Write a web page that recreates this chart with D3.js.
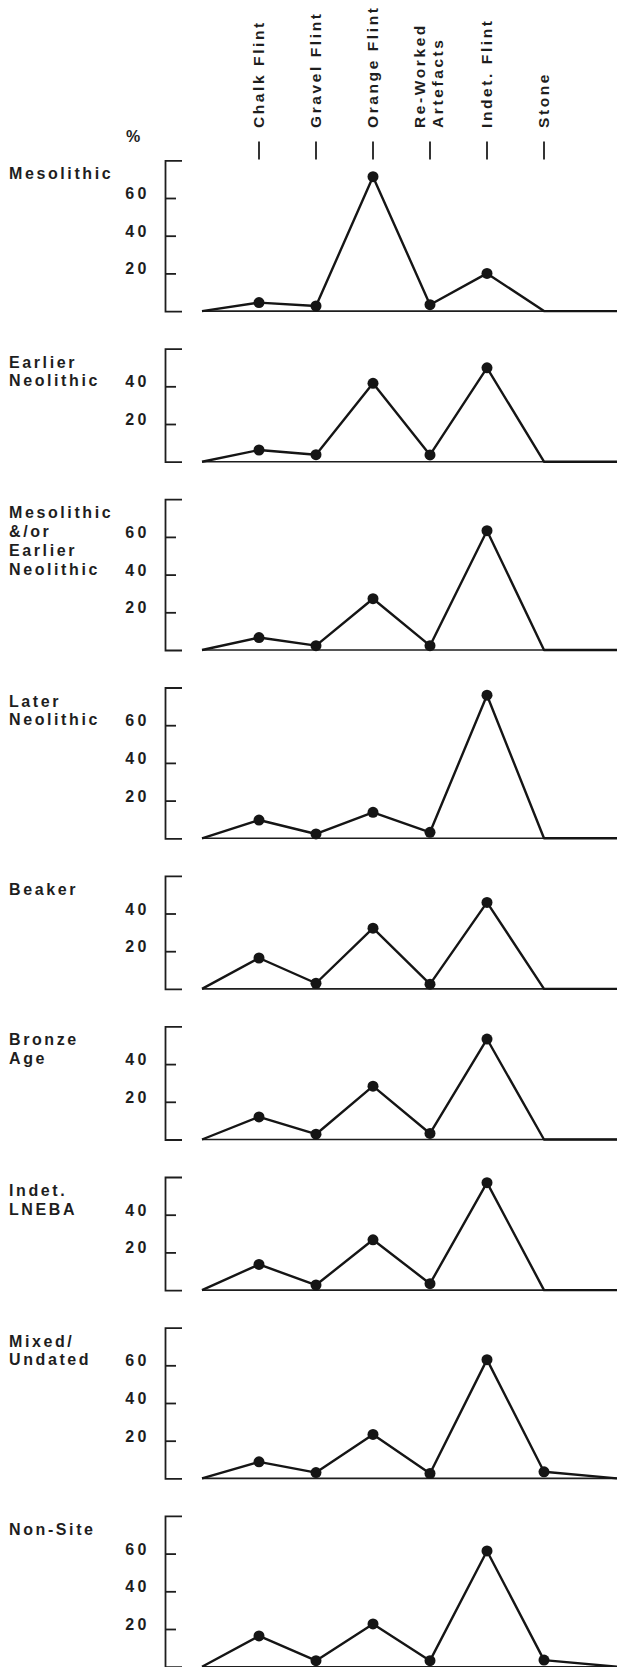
<!DOCTYPE html>
<html>
<head>
<meta charset="utf-8">
<script src="https://cdn.jsdelivr.net/npm/d3@7"></script>
<style>
  body { margin: 0; background: #fff; }
  svg { display: block; background: #fff; }
  text { font-family: "Liberation Sans", Arial, Helvetica, sans-serif; font-weight: bold; fill: #1e1e1e; }
</style>
</head>
<body>
<svg id="chart" width="617" height="1667"></svg>
<script>
// ---------- DATA ----------
const categories = ["Chalk Flint", "Gravel Flint", "Orange Flint", "Re-Worked Artefacts", "Indet. Flint", "Stone"];
const categoryLabelLines = [["Chalk Flint"], ["Gravel Flint"], ["Orange Flint"], ["Re-Worked", "Artefacts"], ["Indet. Flint"], ["Stone"]];

const periods = ["Mesolithic", "Earlier Neolithic", "Mesolithic &/or Earlier Neolithic", "Later Neolithic",
                 "Beaker", "Bronze Age", "Indet. LNEBA", "Mixed/Undated", "Non-Site"];
const periodLabelLines = [["Mesolithic"], ["Earlier", "Neolithic"], ["Mesolithic", "&/or", "Earlier", "Neolithic"],
                          ["Later", "Neolithic"], ["Beaker"], ["Bronze", "Age"], ["Indet.", "LNEBA"],
                          ["Mixed/", "Undated"], ["Non-Site"]];

const axisMax = [80, 60, 80, 80, 60, 60, 60, 80, 80];
const ticks80 = [20, 40, 60];
const ticks60 = [20, 40];

// percentages per category (Chalk, Gravel, Orange, Re-Worked, Indet., Stone)
const mesolithic        = [4.5, 2.7, 71.3, 3.4, 20.0, 0];
const earlierNeolithic  = [6.2, 3.7, 41.6, 3.6, 49.8, 0];
const mesoOrEarlierNeo  = [6.6, 2.3, 27.2, 2.3, 63.3, 0];
const laterNeolithic    = [9.7, 2.3, 13.8, 3.2, 75.9, 0];
const beaker            = [16.4, 3.0, 32.2, 2.5, 45.9, 0];
const bronzeAge         = [12.0, 2.8, 28.3, 3.2, 53.3, 0];
const indetLNEBA        = [13.6, 2.7, 26.7, 3.4, 57.0, 0];
const mixedUndated      = [8.8, 3.1, 23.3, 2.6, 63.0, 3.5];
const nonSite           = [16.3, 3.2, 22.7, 3.2, 61.4, 3.5];
const seriesValues = [mesolithic, earlierNeolithic, mesoOrEarlierNeo, laterNeolithic, beaker,
                      bronzeAge, indetLNEBA, mixedUndated, nonSite];

// ---------- LAYOUT ----------
const W = 617, H = 1667;
const pxPerUnit = 1.885;
const firstTop = 160.3;
const panelGap = 37.5;
const axisX = 165;
const ink = "#1e1e1e";
const font = '"Liberation Sans", Arial, Helvetica, sans-serif';

const svg = d3.select("#chart");

// x: index 0 = line start, 1..6 = categories
const x = d3.scaleLinear().domain([0, 6]).range([202, 544]);
const xEnd = x.invert(W);

// ---------- CATEGORY HEADER ----------
const header = svg.append("g");
categoryLabelLines.forEach((lines, i) => {
  const cx = x(i + 1);
  header.append("line")
    .attr("x1", cx).attr("x2", cx)
    .attr("y1", 141.5).attr("y2", 159.5)
    .attr("stroke", ink).attr("stroke-width", 1.8);
  const offs = lines.length === 1 ? [5.3] : [-5, 13.3];
  lines.forEach((ln, j) => {
    header.append("text")
      .attr("transform", `translate(${cx + offs[j]},128) rotate(-90)`)
      .attr("text-anchor", "start")
      .style("font-size", "15.5px")
      .style("letter-spacing", "2.6px")
      .text(ln);
  });
});
header.append("text")
  .attr("x", 126).attr("y", 141.5)
  .style("font-size", "16px")
  .text("%");

// ---------- PANELS ----------
let panelTop = firstTop;
seriesValues.forEach((vals, p) => {
  const max = axisMax[p];
  const base = panelTop + max * pxPerUnit;
  const y = d3.scaleLinear().domain([0, max]).range([base, panelTop]);
  const g = svg.append("g");

  // period label
  periodLabelLines[p].forEach((ln, j) => {
    g.append("text")
      .attr("x", 9).attr("y", panelTop + 19 + j * 18.8)
      .style("font-size", "16px")
      .style("letter-spacing", "2.6px")
      .text(ln);
  });

  // y axis with bracket ends
  const ax = g.append("g")
    .attr("transform", `translate(${axisX},0)`)
    .call(d3.axisLeft(y)
      .tickValues(max === 80 ? ticks80 : ticks60)
      .tickSizeInner(-11)
      .tickSizeOuter(-17)
      .tickPadding(15)
      .tickFormat(d3.format("d")));
  ax.select(".domain").attr("stroke", ink).attr("stroke-width", 1.8);
  ax.selectAll(".tick line").attr("stroke", ink).attr("stroke-width", 1.8);
  ax.selectAll(".tick text")
    .attr("dy", "0.5px")
    .attr("fill", ink)
    .style("font-family", font)
    .style("font-weight", "bold")
    .style("font-size", "16px")
    .style("letter-spacing", "3.5px");

  // baseline
  g.append("line")
    .attr("x1", x(0)).attr("x2", W)
    .attr("y1", y(0)).attr("y2", y(0))
    .attr("stroke", ink).attr("stroke-width", 1.6);

  // data line
  const pts = [{i: 0, v: 0}]
    .concat(vals.map((v, k) => ({i: k + 1, v: v})))
    .concat([{i: xEnd, v: 0}]);
  const line = d3.line().x(d => x(d.i)).y(d => y(d.v));
  g.append("path")
    .datum(pts)
    .attr("d", line)
    .attr("fill", "none")
    .attr("stroke", "#151515")
    .attr("stroke-width", 2.4)
    .attr("stroke-linejoin", "round");

  // markers
  g.selectAll("circle")
    .data(vals.map((v, k) => ({i: k + 1, v: v})).filter(d => d.v > 0))
    .join("circle")
    .attr("cx", d => x(d.i))
    .attr("cy", d => y(d.v))
    .attr("r", 5.5)
    .attr("fill", "#151515");

  panelTop = base + panelGap;
});
</script>
</body>
</html>
